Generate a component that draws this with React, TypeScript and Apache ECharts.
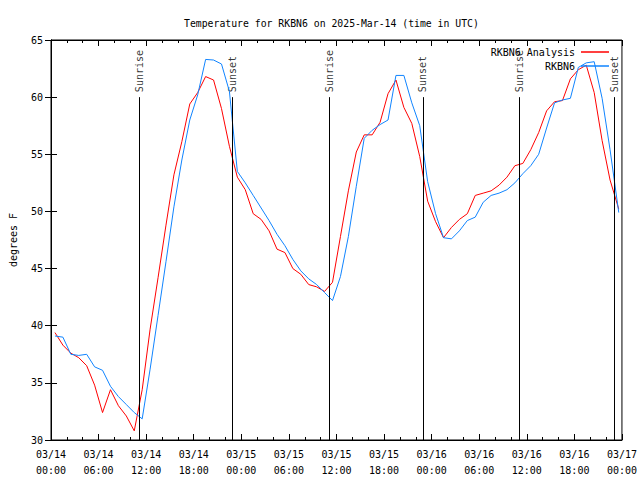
import React, { useEffect, useRef } from "react";
import * as echarts from "echarts";

// Hours since 03/14 00:00 UTC
const hours = [
  0.5, 1.5, 2.5, 3.5, 4.5, 5.5, 6.5, 7.5, 8.5, 9.5, 10.5, 11.5,
  12.5, 13.5, 14.5, 15.5, 16.5, 17.5, 18.5, 19.5, 20.5, 21.5, 22.5, 23.5,
  24.5, 25.5, 26.5, 27.5, 28.5, 29.5, 30.5, 31.5, 32.5, 33.5, 34.5, 35.5,
  36.5, 37.5, 38.5, 39.5, 40.5, 41.5, 42.5, 43.5, 44.5, 45.5, 46.5, 47.5,
  48.5, 49.5, 50.5, 51.5, 52.5, 53.5, 54.5, 55.5, 56.5, 57.5, 58.5, 59.5,
  60.5, 61.5, 62.5, 63.5, 64.5, 65.5, 66.5, 67.5, 68.5, 69.5, 70.5, 71.6,
];

const analysis = [
  39.4, 38.3, 37.6, 37.2, 36.5, 34.8, 32.4, 34.4, 33.0, 32.1, 30.8, 34.4,
  39.7, 44.2, 48.8, 53.2, 56.1, 59.4, 60.4, 61.8, 61.5, 59.0, 55.7, 53.0,
  51.9, 49.8, 49.3, 48.3, 46.7, 46.4, 45.0, 44.5, 43.6, 43.4, 43.0, 43.8,
  47.8, 51.8, 55.2, 56.7, 56.7, 57.8, 60.3, 61.5, 59.1, 57.7, 54.8, 50.9,
  49.1, 47.7, 48.6, 49.3, 49.8, 51.4, 51.6, 51.8, 52.3, 53.0, 54.0, 54.2,
  55.4, 56.9, 58.8, 59.6, 59.7, 61.6, 62.4, 62.8, 60.4, 56.2, 52.75, 50.2,
];

const observed = [
  39.1, 39.0, 37.5, 37.4, 37.5, 36.4, 36.1, 34.7, 33.8, 33.1, 32.4, 31.85,
  36.2, 40.9, 45.6, 50.4, 54.5, 58.0, 60.2, 63.3, 63.25, 62.9, 60.5, 53.5,
  52.5, 51.4, 50.3, 49.2, 48.0, 47.0, 45.8, 44.8, 44.1, 43.6, 42.9, 42.2,
  44.3, 47.8, 52.2, 56.4, 57.1, 57.6, 58.0, 61.9, 61.9, 59.5, 57.5, 52.6,
  49.8, 47.7, 47.6, 48.3, 49.2, 49.5, 50.8, 51.4, 51.6, 51.9, 52.5, 53.3,
  54.0, 55.0, 57.3, 59.5, 59.75, 59.9, 62.6, 63.0, 63.1, 59.9, 55.4, 49.9,
];

const sunHours = [11.1, 22.9, 35.07, 46.88, 59.05, 71.0];
const sunLabels = ["Sunrise", "Sunset", "Sunrise", "Sunset", "Sunrise", "Sunset"];
const sunTop = 60;

const xMin = 0;
const xMax = 72;
const xInterval = 6;
const yMin = 30;
const yMax = 65;
const yInterval = 5;

const FONT = "DejaVu Sans Mono";

function fmtX(v: number): string {
  const day = 14 + Math.floor(v / 24);
  const hr = Math.round(v % 24);
  const hh = hr < 10 ? "0" + hr : "" + hr;
  return "03/" + day + "\n" + hh + ":00";
}

export default function App() {
  const ref = useRef<HTMLDivElement>(null);
  useEffect(() => {
    if (!ref.current) return;
    const chart = echarts.init(ref.current, undefined, { renderer: "svg" });
    const tickCommon = {
      axisLine: { show: true, lineStyle: { color: "#000", width: 1 } },
      axisTick: { show: true, inside: true, length: 6, lineStyle: { color: "#000" } },
      splitLine: { show: false },
    };
    const legendCommon = {
      align: "right",
      icon: "rect",
      itemWidth: 28,
      itemHeight: 1.5,
      itemGap: 0,
      textStyle: { fontFamily: FONT, fontSize: 10, color: "#000", padding: [0, 1, 0, 0] },
    };
    chart.setOption({
      animation: false,
      backgroundColor: "#fff",
      textStyle: { fontFamily: FONT, color: "#000" },
      title: {
        text: "Temperature for RKBN6 on 2025-Mar-14 (time in UTC)",
        left: 179,
        top: 13,
        textStyle: { fontFamily: FONT, fontSize: 9.8, fontWeight: "normal", color: "#000" },
      },
      legend: [
        { ...legendCommon, data: ["RKBN6 Analysis"], right: 26, top: 42 },
        { ...legendCommon, data: ["RKBN6"], right: 26, top: 56 },
      ],
      grid: {
        left: 48,
        right: 18,
        top: 40,
        bottom: 40,
        show: true,
        borderColor: "#000",
        borderWidth: 1,
        backgroundColor: "transparent",
      },
      xAxis: [
        {
          type: "value",
          min: xMin,
          max: xMax,
          interval: xInterval,
          position: "bottom",
          ...tickCommon,
          minorTick: { show: true, splitNumber: 3, length: 3, lineStyle: { color: "#000" } },
          axisLabel: {
            formatter: fmtX,
            fontFamily: FONT,
            fontSize: 10,
            color: "#000",
            margin: 6,
            lineHeight: 16,
          },
        },
        {
          type: "value",
          min: xMin,
          max: xMax,
          interval: xInterval,
          position: "top",
          ...tickCommon,
          minorTick: { show: true, splitNumber: 3, length: 3, lineStyle: { color: "#000" } },
          axisLabel: { show: false },
        },
      ],
      yAxis: [
        {
          type: "value",
          min: yMin,
          max: yMax,
          interval: yInterval,
          position: "left",
          ...tickCommon,
          name: "degrees F",
          nameLocation: "middle",
          nameRotate: 90,
          nameGap: 33,
          nameTextStyle: { fontFamily: FONT, fontSize: 10, color: "#000" },
          axisLabel: { fontFamily: FONT, fontSize: 10, color: "#000", margin: 8 },
        },
        {
          type: "value",
          min: yMin,
          max: yMax,
          interval: yInterval,
          position: "right",
          ...tickCommon,
          axisLabel: { show: false },
        },
      ],
      series: [
        {
          name: "sun",
          type: "scatter",
          z: 1,
          symbolSize: 0,
          itemStyle: { color: "transparent" },
          silent: true,
          data: sunHours.map((h, i) => [h, sunTop, sunLabels[i]]),
          label: {
            show: true,
            formatter: (p: any) => p.value[2],
            position: [0, -5],
            rotate: 90,
            align: "left",
            verticalAlign: "middle",
            fontFamily: FONT,
            fontSize: 10,
            color: "#000",
          },
          markLine: {
            silent: true,
            symbol: "none",
            animation: false,
            label: { show: false },
            lineStyle: { color: "#000", width: 1, type: "solid" },
            data: sunHours.map((h) => [{ coord: [h, yMin] }, { coord: [h, sunTop] }]),
          },
        },
        {
          name: "RKBN6 Analysis",
          type: "line",
          z: 3,
          showSymbol: false,
          symbol: "none",
          lineStyle: { color: "#ff0000", width: 1 },
          itemStyle: { color: "#ff0000" },
          data: hours.map((h, i) => [h, analysis[i]]),
        },
        {
          name: "RKBN6",
          type: "line",
          z: 4,
          showSymbol: false,
          symbol: "none",
          lineStyle: { color: "#1084ff", width: 1 },
          itemStyle: { color: "#1084ff" },
          data: hours.map((h, i) => [h, observed[i]]),
        },
      ],
    });
    return () => chart.dispose();
  }, []);
  return (
    <div
      ref={ref}
      style={{ position: "fixed", left: 0, top: 0, width: 640, height: 480 }}
    />
  );
}
